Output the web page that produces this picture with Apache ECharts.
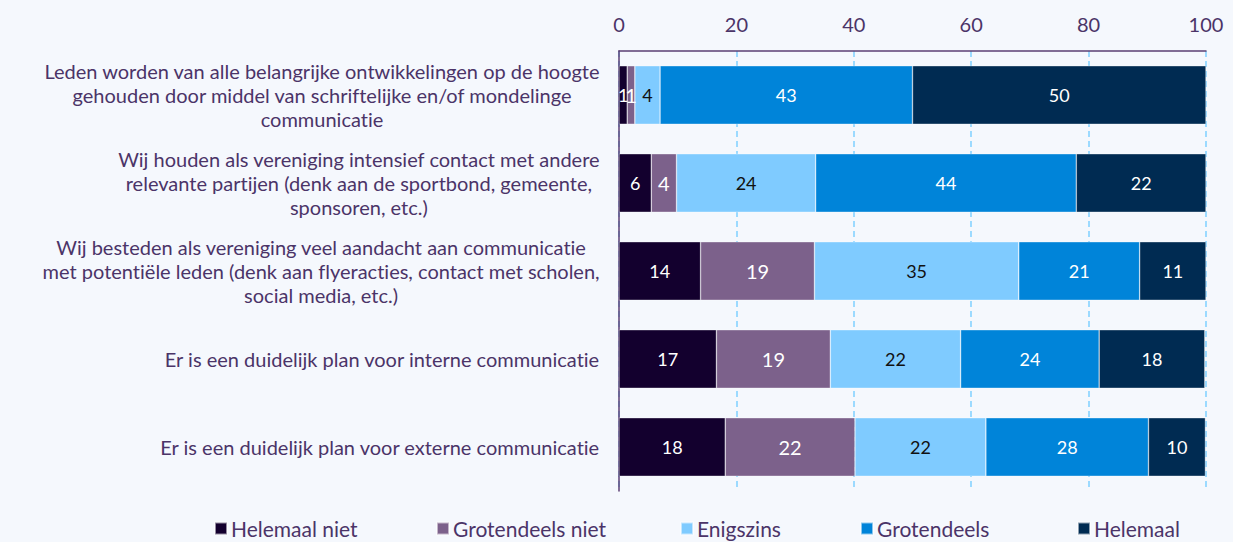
<!DOCTYPE html>
<html>
<head>
<meta charset="utf-8">
<script src="https://cdn.jsdelivr.net/npm/echarts@6/dist/echarts.min.js"></script>
<style>
html,body{margin:0;padding:0;background:#f5f8fd;}
#chart{width:1233px;height:542px;}
#chart text{font-variant-ligatures:none;font-feature-settings:"liga" 0, "clig" 0;}
</style>
</head>
<body>
<div id="chart"></div>
<script>
const categories = [
  "Leden worden van alle belangrijke ontwikkelingen op de hoogte\ngehouden door middel van schriftelijke en/of mondelinge\ncommunicatie",
  "Wij houden als vereniging intensief contact met andere\nrelevante partijen (denk aan de sportbond, gemeente,\nsponsoren, etc.)",
  "Wij besteden als vereniging veel aandacht aan communicatie\nmet potentiële leden (denk aan flyeracties, contact met scholen,\nsocial media, etc.)",
  "Er is een duidelijk plan voor interne communicatie",
  "Er is een duidelijk plan voor externe communicatie"
];
const seriesNames = ["Helemaal niet", "Grotendeels niet", "Enigszins", "Grotendeels", "Helemaal"];
const helemaalNiet    = [1.4, 5.5, 13.9, 16.6, 18.1];
const grotendeelsNiet = [1.3, 4.3, 19.4, 19.4, 22.1];
const enigszins       = [4.3, 23.7, 34.8, 22.2, 22.3];
const grotendeels     = [43.0, 44.4, 20.6, 23.6, 27.7];
const helemaal        = [50.0, 22.1, 11.3, 18.0, 9.7];
const xTicks = [0, 20, 40, 60, 80, 100];

// layout / style (kept separate from data)
const legendLefts = [214, 436, 680, 860, 1077];
const colors = ["#13002e", "#7c618b", "#7fcbff", "#0084d9", "#002b52"];
const labelColors = ["#ffffff", "#ffffff", "#111111", "#ffffff", "#ffffff"];
const labelSizes = [18, 20, 18, 18, 18];
const allValues = [helemaalNiet, grotendeelsNiet, enigszins, grotendeels, helemaal];
const textColor = "#4b3468";
const font = "Lato";

const chart = echarts.init(document.getElementById('chart'), null, {renderer: 'svg'});
chart.setOption({
  backgroundColor: "#f5f8fd",
  animation: false,
  grid: {left: 619, right: 27, top: 51, height: 440, containLabel: false},
  legend: seriesNames.map((name, i) => ({
    data: [name],
    left: legendLefts[i], top: 518, padding: 0,
    icon: 'rect', itemWidth: 12, itemHeight: 12,
    textStyle: {color: textColor, fontSize: 21, fontFamily: font, padding: [0, 0, 0, -1]}
  })),
  xAxis: {
    type: 'value', position: 'top', min: xTicks[0], max: xTicks[xTicks.length-1], interval: 20,
    axisLine: {show: true, lineStyle: {color: "#5b3f73", width: 1.5}},
    axisTick: {show: false},
    axisLabel: {color: textColor, fontSize: 20, fontFamily: font, margin: 17},
    splitLine: {show: true, lineStyle: {color: "#7fcfff", width: 1.5, type: [6, 4]}}
  },
  yAxis: {
    type: 'category', data: categories, inverse: true,
    axisLine: {show: true, lineStyle: {color: "#5b3f73", width: 1.5}},
    axisTick: {show: false},
    axisLabel: {
      margin: 19, align: 'right', color: textColor, fontSize: 20, fontFamily: font, lineHeight: 24,
      formatter: v => v.split('\n').map(l => '{c|' + l + '}').join('\n'),
      rich: {c: {align: 'center', color: textColor, fontSize: 20, fontFamily: font, lineHeight: 24}}
    }
  },
  series: seriesNames.map((name, i) => ({
    name: name, type: 'bar', stack: 'total', barCategoryGap: '33.5%',
    data: allValues[i],
    itemStyle: {color: colors[i], borderColor: 'rgba(255,255,255,0.55)', borderWidth: 0.6},
    label: {
      show: true, position: 'inside', color: labelColors[i], fontSize: labelSizes[i], fontFamily: font,
      formatter: p => Math.round(p.value)
    }
  }))
});
</script>
</body>
</html>
